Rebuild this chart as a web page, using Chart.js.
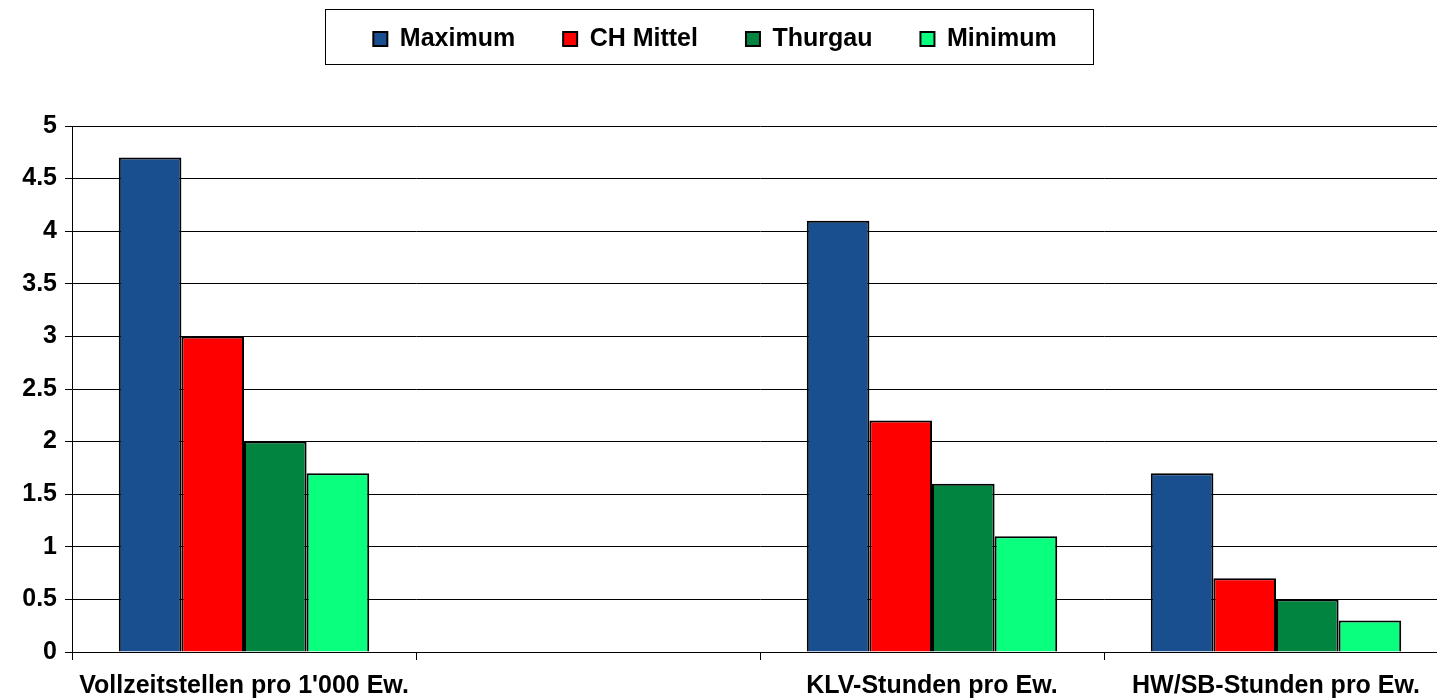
<!DOCTYPE html>
<html><head><meta charset="utf-8">
<script src="https://cdn.jsdelivr.net/npm/chart.js@4"></script>
<style>html,body{margin:0;padding:0;overflow:hidden;background:#fff}#wrap{width:1448px;height:698px}</style>
</head><body><div id="wrap"><canvas id="c" width="1448" height="698"></canvas></div>
<script>
const categories = ["Vollzeitstellen pro 1'000 Ew.", "", "KLV-Stunden pro Ew.", "HW/SB-Stunden pro Ew."];
const seriesNames = ["Maximum", "CH Mittel", "Thurgau", "Minimum"];
const maximum = [4.7, null, 4.1, 1.7];
const chMittel = [3.0, null, 2.2, 0.7];
const thurgau = [2.0, null, 1.6, 0.5];
const minimum = [1.7, null, 1.1, 0.3];
const yMin = 0, yMax = 5, yStep = 0.5;

const colors = ['#1A4F8F', '#FF0000', '#00843F', '#0AFF7F'];
const FONT = "'Liberation Sans', Arial, sans-serif";
Chart.defaults.color = '#000';
Chart.defaults.font.family = FONT;

const legendFrame = {
  id: 'legendFrame',
  afterInit(chart) {
    const lg = chart.legend;
    const f = lg.fit.bind(lg);
    lg.fit = function () { f(); this.height = 126; };
  },
  afterLayout(chart) {
    const lg = chart.legend;
    lg.left -= 9; lg.right -= 9;
    const p = lg.options.labels.padding;
    const dy = 39 - (lg.top + p + 12.5);
    lg.top += dy; lg.bottom += dy;
  },
  afterDraw(chart) {
    const ctx = chart.ctx;
    ctx.save();
    ctx.strokeStyle = '#000';
    ctx.lineWidth = 1;
    ctx.strokeRect(325.5, 9.5, 768, 55);
    ctx.restore();
  }
};

const mk = (label, data, i) => ({
  label, data,
  backgroundColor: colors[i],
  borderColor: '#000',
  borderWidth: 2,
  categoryPercentage: 0.728,
  barPercentage: 1.0
});

new Chart(document.getElementById('c'), {
  type: 'bar',
  data: {
    labels: categories,
    datasets: [
      mk(seriesNames[0], maximum, 0),
      mk(seriesNames[1], chMittel, 1),
      mk(seriesNames[2], thurgau, 2),
      mk(seriesNames[3], minimum, 3)
    ]
  },
  options: {
    responsive: false,
    animation: false,
    layout: { padding: 0 },
    plugins: {
      legend: {
        position: 'top',
        labels: {
          boxWidth: 14, boxHeight: 14, padding: 48,
          font: { family: FONT, size: 25, weight: 'bold' },
          color: '#000'
        }
      },
      tooltip: { enabled: false }
    },
    scales: {
      x: {
        afterFit(scale) { scale.height = 46; },
        grid: { offset: true, drawOnChartArea: false, drawTicks: true, tickLength: 8, color: '#000' },
        border: { color: '#000', width: 1 },
        ticks: { autoSkip: false, maxRotation: 0, minRotation: 0, padding: 11,
          font: { family: FONT, size: 25, weight: 'bold' }, color: '#000' }
      },
      y: {
        min: yMin, max: yMax,
        afterFit(scale) { scale.width = 72; },
        grid: { color: '#000', tickLength: 7, lineWidth: 1 },
        border: { color: '#000', width: 1 },
        ticks: { stepSize: yStep, padding: 8,
          callback: (v) => String(Math.round(v * 10) / 10),
          font: { family: FONT, size: 25, weight: 'bold' }, color: '#000' }
      }
    }
  },
  plugins: [legendFrame]
});
</script></body></html>
